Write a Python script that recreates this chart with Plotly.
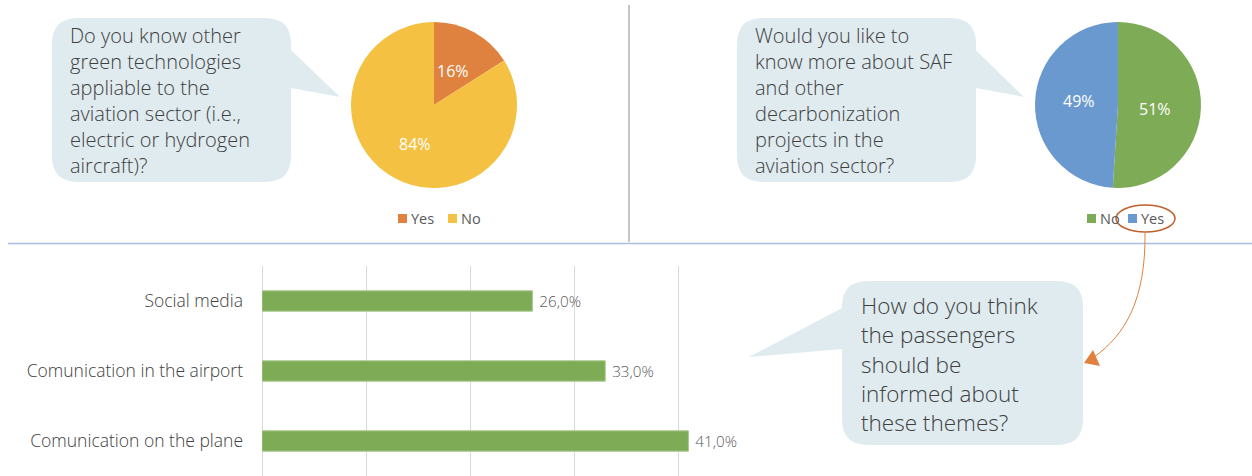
import plotly.graph_objects as go

W, H = 1252, 476

# --- data -------------------------------------------------------------
q1_labels = ["Yes", "No"]
q1_values = [16, 84]
q1_colors = ["#E0823F", "#F4C142"]
q1_question = ["Do you know other", "green technologies", "appliable to the",
               "aviation sector (i.e.,", "electric or hydrogen", "aircraft)?"]

q2_labels = ["No", "Yes"]
q2_values = [51, 49]
q2_colors = ["#7EAB55", "#6A99D0"]
q2_question = ["Would you like to", "know more about SAF", "and other",
               "decarbonization", "projects in the", "aviation sector?"]

channels = ["Social media", "Comunication in the airport", "Comunication on the plane"]
channel_share = [26.0, 33.0, 41.0]
q3_question = ["How do you think", "the passengers", "should be",
               "informed about", "these themes?"]

BUBBLE = "#DFEBEF"
TEXT = "#404040"
FONT = "Open Sans"
LIGHT = 300


def px(x):
    return x / W


def py(y):
    return 1 - y / H


def path(points_cmds):
    out = []
    for cmd, pts in points_cmds:
        coords = " ".join(f"{px(x):.5f},{py(y):.5f}" for x, y in pts)
        out.append(f"{cmd}{coords}")
    return " ".join(out) + " Z"


def bubble(x0, y0, x1, y1, r, tail):
    """Rounded speech bubble; tail = list of three points (side in, tip, side out)."""
    cmds = [("M", [(x0 + r, y0)]), ("L", [(x1 - r, y0)]),
            ("Q", [(x1, y0), (x1, y0 + r)]), ("L", [(x1, y1 - r)]),
            ("Q", [(x1, y1), (x1 - r, y1)]), ("L", [(x0 + r, y1)]),
            ("Q", [(x0, y1), (x0, y1 - r)]), ("L", [(x0, y0 + r)]),
            ("Q", [(x0, y0), (x0 + r, y0)])]
    body = dict(type="path", xref="paper", yref="paper", path=path(cmds),
                fillcolor=BUBBLE, line=dict(width=0), layer="below")
    t = dict(type="path", xref="paper", yref="paper",
             path=path([("M", [tail[0]]), ("L", [tail[1]]), ("L", [tail[2]])]),
             fillcolor=BUBBLE, line=dict(width=0), layer="below")
    return [body, t]


fig = go.Figure()
annotations = []

# --- pies ---------------------------------------------------------------
def add_pie(labels, values, colors, cx, cy, r, label_pos):
    fig.add_trace(go.Pie(
        labels=labels, values=values, sort=False, direction="clockwise",
        rotation=0, marker=dict(colors=colors, line=dict(width=0)),
        textinfo="none",
        domain=dict(x=[px(cx - r), px(cx + r)], y=[py(cy + r), py(cy - r)]),
        showlegend=False, hoverinfo="label+percent"))
    total = sum(values)
    for v, (lx, ly) in zip(values, label_pos):
        annotations.append(dict(xref="paper", yref="paper", x=px(lx), y=py(ly),
                                text=f"{round(100 * v / total)}%", showarrow=False,
                                xanchor="center", yanchor="middle",
                                font=dict(family=FONT, size=16, color="white")))


add_pie(q1_labels, q1_values, q1_colors, 434, 105, 83, [(453, 71), (415, 144)])
add_pie(q2_labels, q2_values, q2_colors, 1118, 105, 83, [(1155, 109), (1079, 101)])

# --- bars ---------------------------------------------------------------
fig.add_trace(go.Bar(
    x=channel_share, y=channels, orientation="h",
    marker=dict(color="#7EAB55", line=dict(color="#A6C78A", width=1)),
    width=0.29, texttemplate=" %{x:.1f}%", textposition="outside",
    textfont=dict(family=FONT, size=18, color="#595959", weight=LIGHT),
    cliponaxis=False, showlegend=False, xaxis="x", yaxis="y"))

fig.update_layout(
    width=W, height=H, margin=dict(l=0, r=0, t=0, b=0),
    paper_bgcolor="white", plot_bgcolor="rgba(0,0,0,0)",
    separators=",.",
    font=dict(family=FONT, color=TEXT),
    xaxis=dict(domain=[px(262), px(782)], range=[0, 50], dtick=10,
               showgrid=True, gridcolor="#D9D9D9", gridwidth=1,
               zeroline=True, zerolinecolor="#D9D9D9", zerolinewidth=1,
               showticklabels=False, showline=False, fixedrange=True),
    yaxis=dict(domain=[0, py(266)], categoryorder="array",
               categoryarray=channels, autorange="reversed",
               showgrid=False, zeroline=False, showline=False,
               ticks="", ticklabelstandoff=18,
               tickfont=dict(family=FONT, size=17.5, color=TEXT, weight=LIGHT),
               fixedrange=True),
)

shapes = []
shapes += bubble(52, 18, 291, 182, 26, [(270, 30), (340, 97), (291, 88)])
shapes += bubble(737, 18, 976, 182, 26, [(955, 30), (1024, 97), (976, 88)])
shapes += bubble(842, 281, 1083, 445, 26, [(842, 308), (749, 357), (842, 349)])

# dividers
shapes.append(dict(type="line", xref="paper", yref="paper",
                   x0=px(629), x1=px(629), y0=py(5), y1=py(242),
                   line=dict(color="#8C8C8C", width=1)))
shapes.append(dict(type="line", xref="paper", yref="paper",
                   x0=px(8), x1=px(1252), y0=py(243.5), y1=py(243.5),
                   line=dict(color="#A9BCE3", width=1.5)))


def add_question(lines, x, y_mid, size):
    annotations.append(dict(xref="paper", yref="paper", x=px(x), y=py(y_mid),
                            text="<br>".join(lines), align="left",
                            showarrow=False, xanchor="left", yanchor="middle",
                            font=dict(family=FONT, size=size, color=TEXT,
                                      weight=LIGHT)))


add_question(q1_question, 68, 100, 20)
add_question(q2_question, 753, 100, 20)
add_question(q3_question, 859, 364, 22.5)


def add_legend(labels, colors, xs, y):
    for lab, col, x in zip(labels, colors, xs):
        shapes.append(dict(type="rect", xref="paper", yref="paper",
                           x0=px(x), x1=px(x + 9), y0=py(y - 4.5), y1=py(y + 4.5),
                           fillcolor=col, line=dict(width=0)))
        annotations.append(dict(xref="paper", yref="paper", x=px(x + 11), y=py(y),
                                text=lab, showarrow=False, xanchor="left",
                                yanchor="middle",
                                font=dict(family=FONT, size=14.5, color="#595959")))


add_legend(q1_labels, q1_colors, [398, 448], 218.5)
add_legend(q2_labels, q2_colors, [1087, 1128], 218.5)

# highlight around "Yes" and curved arrow to the last question
shapes.append(dict(type="circle", xref="paper", yref="paper",
                   x0=px(1116), x1=px(1175), y0=py(232), y1=py(205),
                   line=dict(color="#C0602A", width=1.5)))
shapes.append(dict(type="path", xref="paper", yref="paper",
                   path=f"M{px(1145)},{py(232)} C{px(1146)},{py(300)} "
                        f"{px(1125)},{py(335)} {px(1094)},{py(357)}",
                   line=dict(color="#E0823F", width=1)))
shapes.append(dict(type="path", xref="paper", yref="paper",
                   path=path([("M", [(1084, 363)]), ("L", [(1093, 350)]),
                              ("L", [(1100, 366)])]),
                   fillcolor="#E0823F", line=dict(width=0)))

fig.update_layout(shapes=shapes, annotations=annotations)

fig.write_html("out.html")
